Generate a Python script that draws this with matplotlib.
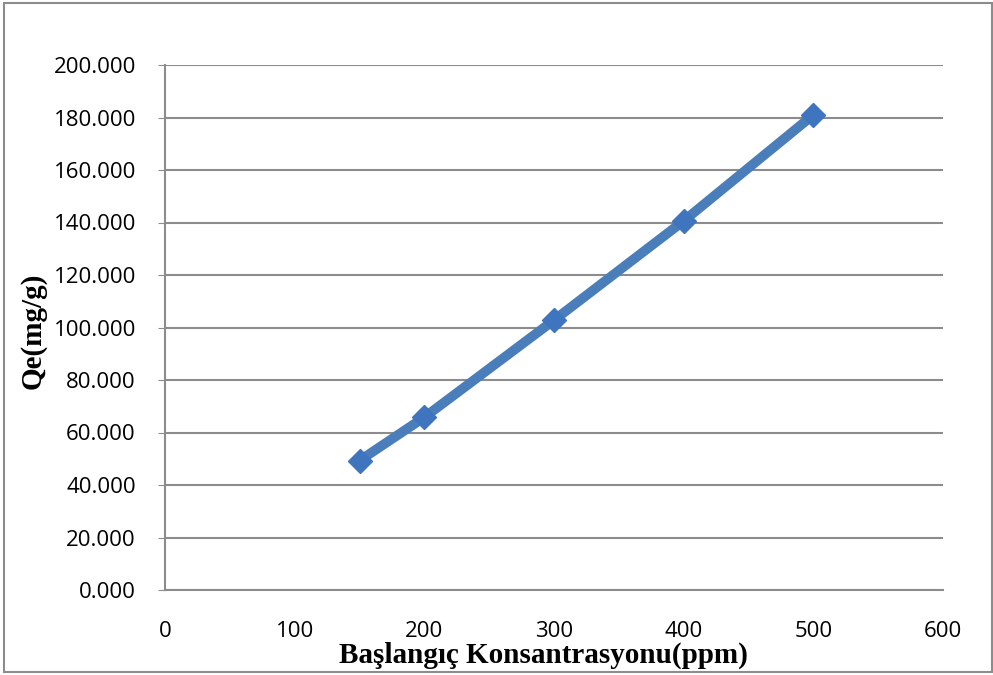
import matplotlib.pyplot as plt
from matplotlib.patches import Rectangle

# initial concentration (ppm) vs adsorbed amount
konsantrasyon = [150, 200, 300, 400, 500]
qe = [49.3, 65.8, 102.8, 140.6, 181.0]

x_ticks = [0, 100, 200, 300, 400, 500, 600]
y_ticks = [0, 20, 40, 60, 80, 100, 120, 140, 160, 180, 200]

fig = plt.figure(figsize=(9.93, 6.75), dpi=100)
ax = fig.add_axes([165/993, 85/675, 778/993, 525/675])

ax.plot(konsantrasyon, qe, color="#4a7ebb", linewidth=7, marker="D",
        markersize=12, markerfacecolor="#3f75bf", markeredgecolor="#3f75bf",
        solid_joinstyle="miter", zorder=3)

ax.set_xlim(0, 600)
ax.set_ylim(0, 200)
ax.set_xticks(x_ticks)
ax.set_yticks(y_ticks)
ax.set_xticklabels([str(v) for v in x_ticks], fontsize=16, family="Open Sans")
ax.set_yticklabels([f"{v:.3f}" for v in y_ticks], fontsize=16, family="Open Sans")
ax.grid(axis="y", color="#8c8c8c", linewidth=1.5)
ax.set_axisbelow(True)

for side in ["top", "right"]:
    ax.spines[side].set_visible(False)
ax.spines["left"].set_color("#8c8c8c")
ax.spines["bottom"].set_color("#8c8c8c")
ax.spines["left"].set_linewidth(1.5)
ax.spines["bottom"].set_linewidth(1.5)
ax.tick_params(axis="y", length=5, color="#8c8c8c", pad=16)
ax.tick_params(axis="x", length=0, pad=22)

ax.set_xlabel("Başlangıç Konsantrasyonu(ppm)", fontsize=21, fontweight="bold",
              family="Liberation Serif")
ax.set_ylabel("Qe(mg/g)", fontsize=21, fontweight="bold",
              family="Liberation Serif")
ax.xaxis.set_label_coords(0.487, -0.098)
ax.yaxis.set_label_coords(-0.152, 0.493)

fig.patches.append(Rectangle((4/993, 3/675), 988/993, 669/675, transform=fig.transFigure,
                             fill=False, edgecolor="#8c8c8c", linewidth=1.5))

fig.savefig("out.png", dpi=100)
